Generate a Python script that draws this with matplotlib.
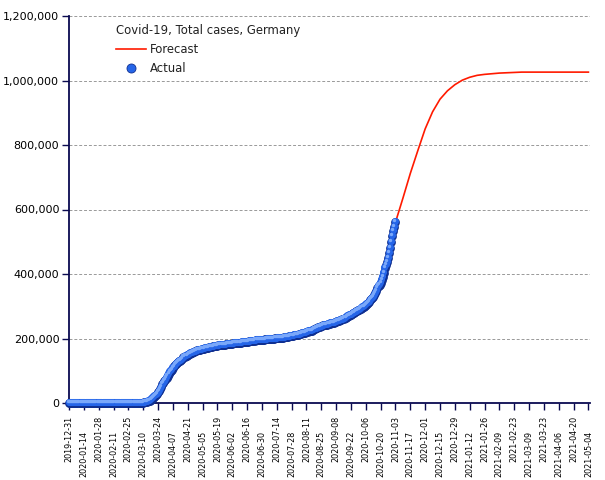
#!/usr/bin/env python3

import matplotlib

matplotlib.use("Agg")
import matplotlib.dates as mdates
import matplotlib.pyplot as plt
import numpy as np
from matplotlib import transforms
from matplotlib.lines import Line2D
from matplotlib.ticker import FixedLocator, FuncFormatter

# daily reported total cases (thousands), 2019-12-31 .. 2020-11-03
actual_start = "2019-12-31"
actual_k = [
    0.0,  # Dec 31
    # Jan
    0.0, 0.0, 0.0, 0.0, 0.0, 0.0, 0.0, 0.0, 0.0, 0.0, 0.0, 0.0, 0.0, 0.0, 0.0, 0.0,
    0.0, 0.0, 0.0, 0.0, 0.0, 0.0, 0.0, 0.0, 0.0, 0.0, 0.0, 0.0, 0.0, 0.0, 0.0,
    # Feb
    0.0, 0.0, 0.0, 0.0, 0.0, 0.0, 0.0, 0.0, 0.0, 0.0, 0.0, 0.0, 0.0, 0.0, 0.0,
    0.0, 0.0, 0.0, 0.0, 0.0, 0.0, 0.0, 0.0, 0.0, 0.0, 0.0, 0.0, 0.0, 0.1,
    # Mar
    0.1, 0.2, 0.2, 0.3, 0.5, 0.7, 0.8, 1.0, 1.2, 1.5, 1.9, 2.1, 3.7, 4.6, 5.8, 7.3,
    9.3, 12.3, 15.3, 19.8, 22.2, 24.9, 29.1, 33.0, 37.3, 43.9, 50.9, 57.7, 62.1, 66.9, 71.8,
    # Apr
    77.9, 84.8, 91.2, 96.1, 100.1, 103.4, 107.7, 113.3, 118.2, 122.2, 124.9, 127.9, 130.1,
    131.4, 134.8, 137.7, 141.4, 143.3, 145.2, 147.1, 148.3, 150.6, 153.1, 155.0, 156.5,
    157.8, 158.8, 159.9, 161.5, 163.0,
    # May
    164.1, 165.0, 165.7, 166.2, 167.0, 168.2, 169.4, 170.6, 171.3, 171.9, 172.6, 173.2,
    174.1, 174.5, 175.2, 175.8, 176.4, 176.6, 177.8, 178.5, 179.0, 179.7, 180.0, 180.3,
    180.6, 181.2, 181.5, 182.2, 182.9, 183.2, 183.4,
    # Jun
    183.9, 184.1, 184.9, 185.4, 185.7, 186.2, 186.3, 186.5, 186.8, 187.2, 187.8, 188.3,
    188.6, 188.8, 189.1, 189.8, 190.3, 190.9, 191.4, 192.1, 192.6, 193.0, 193.5, 194.0,
    194.5, 194.9, 195.2, 195.4, 195.7, 196.0,
    # Jul
    196.3, 196.6, 197.0, 197.3, 197.5, 197.6, 198.0, 198.4, 198.8, 199.3, 199.8, 200.2,
    200.3, 200.5, 200.9, 201.4, 201.8, 202.3, 202.5, 202.8, 203.3, 203.8, 204.6, 205.3,
    206.0, 206.3, 206.9, 207.7, 208.5, 209.4, 210.4,
    # Aug
    211.3, 211.7, 212.0, 212.9, 214.2, 215.3, 216.3, 217.3, 218.0, 218.5, 219.4, 220.9,
    222.3, 223.5, 224.0, 224.6, 226.7, 228.2, 229.7, 231.3, 233.6, 234.5, 235.0, 236.4,
    237.6, 239.5, 240.6, 242.1, 242.4, 242.8, 243.6,
    # Sep
    245.0, 246.0, 247.2, 248.3, 249.0, 249.3, 250.5, 252.2, 253.5, 254.5, 255.8, 256.6,
    257.7, 259.1, 260.4, 262.2, 264.4, 267.0, 268.9, 270.3, 272.3, 273.9, 275.9, 278.1,
    280.2, 282.7, 284.1, 285.3, 287.7, 289.2,
    # Oct
    291.7, 294.4, 296.9, 299.0, 300.6, 303.3, 306.1, 310.1, 314.7, 319.4, 322.9, 325.3,
    329.5, 334.6, 341.2, 348.6, 356.4, 361.9, 366.3, 373.2, 380.8, 392.0, 403.3, 418.0,
    429.2, 437.9, 449.3, 464.2, 481.0, 499.7, 518.8,
    # Nov
    532.9, 545.0, 560.4,
]

# weekly forecast (thousands), 2019-12-31 .. 2021-05-04
forecast_start = "2019-12-31"
forecast_k = [
    0.0, 0.0, 0.0, 0.0, 0.0, 0.0, 0.0, 0.0, 0.0,
    0.2, 1.5, 9.3, 33.0, 72.0, 110.0, 140.0, 158.0, 164.0, 168.0,
    173.0, 177.5, 181.0, 184.0, 186.5, 189.5, 193.0, 195.7, 198.0, 200.3,
    203.3, 207.7, 212.9, 219.4, 228.2, 237.6, 246.0, 252.2, 260.4, 273.9,
    287.7, 303.3, 329.5, 373.2, 449.3, 560.4, 635.0, 712.0, 782.0, 850.0,
    903.0, 942.0, 968.0, 987.0, 1001.0, 1010.0, 1016.0, 1019.0, 1021.0, 1023.0,
    1024.0, 1025.0, 1026.0, 1026.0, 1026.0, 1026.0, 1026.0, 1026.0, 1026.0,
    1026.0, 1026.0, 1026.0,
]

title = "Covid-19, Total cases, Germany"
y_ticks = [0, 200000, 400000, 600000, 800000, 1000000, 1200000]

NAVY = "#0a0a50"
SPHERE_DARK = "#0f2f90"
SPHERE = "#2565e8"
SPHERE_HI = "#7aa8fa"
RED = "#ff1a00"


def main():
    actual_dates = np.datetime64(actual_start) + np.arange(len(actual_k)).astype("timedelta64[D]")
    forecast_dates = np.datetime64(forecast_start) + (7 * np.arange(len(forecast_k))).astype("timedelta64[D]")
    actual = np.array(actual_k) * 1000
    forecast = np.array(forecast_k) * 1000

    dpi = 100
    fig = plt.figure(figsize=(605 / dpi, 480 / dpi), dpi=dpi)
    ax = fig.add_axes([69 / 605, 1 - 403 / 480, 521 / 605, 387 / 480])

    ax.plot(forecast_dates, forecast, color=RED, lw=1.2, zorder=2, label="Forecast")
    # shaded spheres: dark base, lighter body shifted up, small highlight
    ax.scatter(actual_dates, actual, s=40, color=SPHERE_DARK, linewidths=0,
               zorder=3, clip_on=False)
    body = transforms.offset_copy(ax.transData, fig=fig, x=-0.3, y=0.6, units="points")
    ax.scatter(actual_dates, actual, s=26, color=SPHERE, linewidths=0,
               zorder=4, clip_on=False, transform=body)
    hi = transforms.offset_copy(ax.transData, fig=fig, x=-0.8, y=1.4, units="points")
    ax.scatter(actual_dates, actual, s=6, color=SPHERE_HI, linewidths=0,
               zorder=5, clip_on=False, transform=hi)

    # axes
    x0 = np.datetime64("2019-12-31")
    ticks = x0 + (14 * np.arange(36)).astype("timedelta64[D]")
    tick_nums = mdates.date2num(ticks)
    ax.set_xlim(tick_nums[0], tick_nums[-1] + 1.5)
    ax.set_ylim(0, 1200000)
    ax.xaxis.set_major_locator(FixedLocator(tick_nums[::2]))
    ax.xaxis.set_minor_locator(FixedLocator(tick_nums[1::2]))
    fmt = mdates.DateFormatter("%Y-%m-%d")
    ax.xaxis.set_major_formatter(fmt)
    ax.xaxis.set_minor_formatter(fmt)
    ax.tick_params(axis="x", which="major", length=5, width=1, color=NAVY, pad=4,
                   labelsize=5.8, labelrotation=90)
    ax.tick_params(axis="x", which="minor", length=5, width=1, color=NAVY, pad=15,
                   labelsize=5.8, labelrotation=90)
    ax.set_yticks(y_ticks)
    ax.yaxis.set_major_formatter(FuncFormatter(lambda v, p: f"{v:,.0f}"))
    ax.tick_params(axis="y", length=5, width=1, color=NAVY, labelsize=8, pad=2)
    ax.grid(axis="y", color="#999999", linestyle=(0, (3, 2)), linewidth=0.7)
    ax.set_axisbelow(True)
    for side in ("top", "right"):
        ax.spines[side].set_visible(False)
    for side in ("left", "bottom"):
        ax.spines[side].set_color(NAVY)
        ax.spines[side].set_linewidth(1.3)

    sphere_handle = Line2D([], [], marker="o", linestyle="none", markersize=6.5,
                           markerfacecolor=SPHERE, markeredgecolor=SPHERE_DARK,
                           markeredgewidth=0.6)
    red_handle = Line2D([], [], color=RED, lw=1.2)
    leg = ax.legend([red_handle, sphere_handle], ["Forecast", "Actual"], title=title,
                    loc="upper left", bbox_to_anchor=(116 / 605, 1 - 24 / 480),
                    bbox_transform=fig.transFigure, frameon=False, fontsize=8.4,
                    title_fontsize=8.4, handlelength=2.6, handletextpad=0.3,
                    labelspacing=0.5, borderpad=0, borderaxespad=0)
    leg._legend_box.align = "left"
    for t in leg.get_texts():
        t.set_color("#222222")
    leg.get_title().set_color("#222222")

    fig.savefig("out.png", dpi=dpi)


if __name__ == "__main__":
    main()
